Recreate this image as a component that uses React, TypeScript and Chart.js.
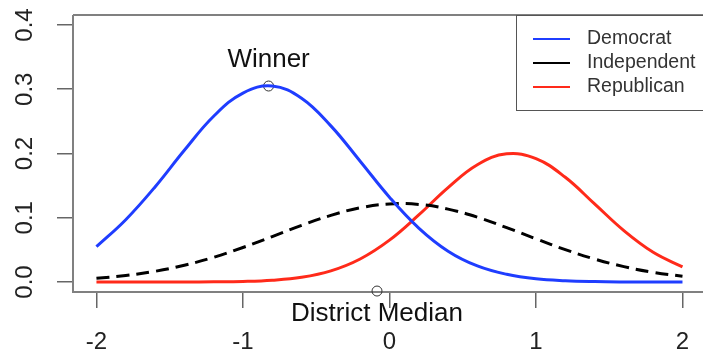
import React, { useEffect, useRef } from "react";
import { Chart, registerables } from "chart.js";

Chart.register(...registerables);

// ---- data ----
const xValues = [-2.0, -1.8, -1.6, -1.4, -1.2, -1.0, -0.8, -0.6, -0.4, -0.2, 0.0, 0.2, 0.4, 0.6, 0.8, 1.0, 1.2, 1.4, 1.6, 1.8, 2.0];
const democrat = [0.055, 0.097, 0.148, 0.205, 0.258, 0.294, 0.305, 0.286, 0.243, 0.188, 0.132, 0.084, 0.048, 0.025, 0.012, 0.005, 0.002, 0.0007, 0.0002, 0.0001, 0.0];
const independent = [0.0058, 0.0101, 0.0167, 0.0261, 0.0385, 0.0537, 0.0707, 0.0881, 0.1037, 0.1155, 0.1215, 0.1208, 0.1135, 0.1009, 0.0847, 0.0672, 0.0504, 0.0358, 0.024, 0.0152, 0.0091];
const republican = [0.0, 0.0, 0.0, 0.0001, 0.0003, 0.0009, 0.0028, 0.0074, 0.0174, 0.0359, 0.0652, 0.1044, 0.147, 0.1825, 0.1995, 0.192, 0.163, 0.1216, 0.08, 0.0463, 0.0236];
const seriesLabels = ["Democrat", "Independent", "Republican"];
const xTicks = [-2, -1, 0, 1, 2];
const yTicks = [0, 0.1, 0.2, 0.3, 0.4];
const yTickLabels = ["0.0", "0.1", "0.2", "0.3", "0.4"];
const winnerPoint = { x: -0.825, y: 0.305 };
const medianPoint = { x: -0.085, y: -0.014 };
const winnerText = { text: "Winner", x: -0.825, y: 0.346 };
const medianText = { text: "District Median", x: -0.085, y: -0.05 };

const FONT = "'Liberation Sans', Arial, sans-serif";

export default function App() {
  const ref = useRef<HTMLCanvasElement | null>(null);

  useEffect(() => {
    const canvas = ref.current;
    if (!canvas) return;

    const decorPlugin = {
      id: "decor",
      beforeDatasetsDraw(chart: any) {
        const { ctx, chartArea } = chart;
        const { left, top, bottom } = chartArea;
        ctx.save();
        ctx.strokeStyle = "#808080";
        ctx.lineWidth = 2;
        ctx.beginPath();
        ctx.moveTo(left, top);
        ctx.lineTo(chart.width, top);
        ctx.moveTo(left, top);
        ctx.lineTo(left, bottom);
        ctx.lineTo(chart.width, bottom);
        ctx.stroke();
        // y tick labels (rotated like R)
        const ys = chart.scales.y;
        ctx.fillStyle = "#222";
        ctx.font = `24px ${FONT}`;
        ctx.textAlign = "center";
        ctx.textBaseline = "middle";
        yTicks.forEach((v, i) => {
          const py = ys.getPixelForValue(v);
          ctx.save();
          ctx.translate(25, py);
          ctx.rotate(-Math.PI / 2);
          ctx.fillText(yTickLabels[i], 0, 0);
          ctx.restore();
        });
        ctx.restore();
      },
      afterDatasetsDraw(chart: any) {
        const { ctx } = chart;
        const xs = chart.scales.x;
        const ys = chart.scales.y;
        ctx.save();
        ctx.fillStyle = "#111";
        ctx.font = `26px ${FONT}`;
        ctx.textAlign = "center";
        ctx.textBaseline = "middle";
        ctx.fillText(winnerText.text, xs.getPixelForValue(winnerText.x), ys.getPixelForValue(winnerText.y));
        ctx.fillText(medianText.text, xs.getPixelForValue(medianText.x), ys.getPixelForValue(medianText.y));

        // legend
        const lx = 516;
        const ly = 15;
        ctx.fillStyle = "#fff";
        ctx.fillRect(lx, ly, chart.width - lx + 5, 95);
        ctx.strokeStyle = "#555";
        ctx.lineWidth = 1;
        ctx.strokeRect(lx + 0.5, ly + 0.5, chart.width - lx + 5, 95);
        const rows = [39, 63, 87];
        const ds = chart.data.datasets;
        ctx.font = `19.5px ${FONT}`;
        ctx.textAlign = "left";
        for (let i = 0; i < 3; i++) {
          ctx.strokeStyle = ds[i].borderColor;
          ctx.lineWidth = 2;
          ctx.beginPath();
          ctx.moveTo(533, rows[i]);
          ctx.lineTo(570, rows[i]);
          ctx.stroke();
          ctx.fillStyle = "#333";
          ctx.fillText(ds[i].label, 587, rows[i]);
        }
        ctx.restore();
      },
    };

    const toPts = (arr: number[]) => arr.map((y, i) => ({ x: xValues[i], y }));

    const chart = new Chart(canvas, {
      type: "scatter",
      data: {
        datasets: [
          {
            label: seriesLabels[0],
            data: toPts(democrat),
            showLine: true,
            borderColor: "#1f3dff",
            borderWidth: 3,
            pointRadius: 0,
            tension: 0.4,
            fill: false,
          },
          {
            label: seriesLabels[1],
            data: toPts(independent),
            showLine: true,
            borderColor: "#000000",
            borderWidth: 3,
            borderDash: [13, 7],
            pointRadius: 0,
            tension: 0.4,
            fill: false,
          },
          {
            label: seriesLabels[2],
            data: toPts(republican),
            showLine: true,
            borderColor: "#ff2a1a",
            borderWidth: 3,
            pointRadius: 0,
            tension: 0.4,
            fill: false,
          },
          {
            label: "winner",
            data: [winnerPoint],
            showLine: false,
            pointRadius: 5,
            pointBorderWidth: 1,
            pointBorderColor: "#333",
            pointBackgroundColor: "rgba(0,0,0,0)",
          },
          {
            label: "median",
            data: [medianPoint],
            showLine: false,
            pointRadius: 5,
            pointBorderWidth: 1,
            pointBorderColor: "#333",
            pointBackgroundColor: "rgba(0,0,0,0)",
            clip: false,
          } as any,
        ],
      },
      options: {
        responsive: false,
        animation: false,
        layout: { autoPadding: false, padding: { top: 15, left: 0, right: 0, bottom: 0 } },
        plugins: {
          legend: { display: false },
          tooltip: { enabled: false },
        },
        scales: {
          x: {
            type: "linear",
            min: -2.16,
            max: 2.14,
            afterBuildTicks: (scale: any) => {
              scale.ticks = xTicks.map((v) => ({ value: v }));
            },
            afterFit: (scale: any) => {
              scale.height = 66;
              scale.paddingLeft = 0;
              scale.paddingRight = 0;
            },
            grid: {
              display: true,
              drawOnChartArea: false,
              drawTicks: true,
              tickLength: 16,
              color: "#666",
              lineWidth: 1.5,
            },
            border: { display: false },
            ticks: {
              font: { size: 24, family: FONT },
              color: "#222",
              padding: 20,
              maxRotation: 0,
              minRotation: 0,
              callback: (v: any) => String(v),
            },
          },
          y: {
            type: "linear",
            min: -0.0155,
            max: 0.4155,
            afterBuildTicks: (scale: any) => {
              scale.ticks = yTicks.map((v) => ({ value: v }));
            },
            afterFit: (scale: any) => {
              scale.width = 73;
              scale.paddingTop = 0;
              scale.paddingBottom = 0;
            },
            grid: {
              display: true,
              drawOnChartArea: false,
              drawTicks: true,
              tickLength: 16,
              color: "#666",
              lineWidth: 1.5,
            },
            border: { display: false },
            ticks: { display: false },
          },
        },
      } as any,
      plugins: [decorPlugin],
    });

    return () => chart.destroy();
  }, []);

  return (
    <div style={{ position: "fixed", left: 0, top: 0, width: 703, height: 358, background: "#fff" }}>
      <canvas ref={ref} width={703} height={358} style={{ display: "block", width: 703, height: 358 }} />
    </div>
  );
}
